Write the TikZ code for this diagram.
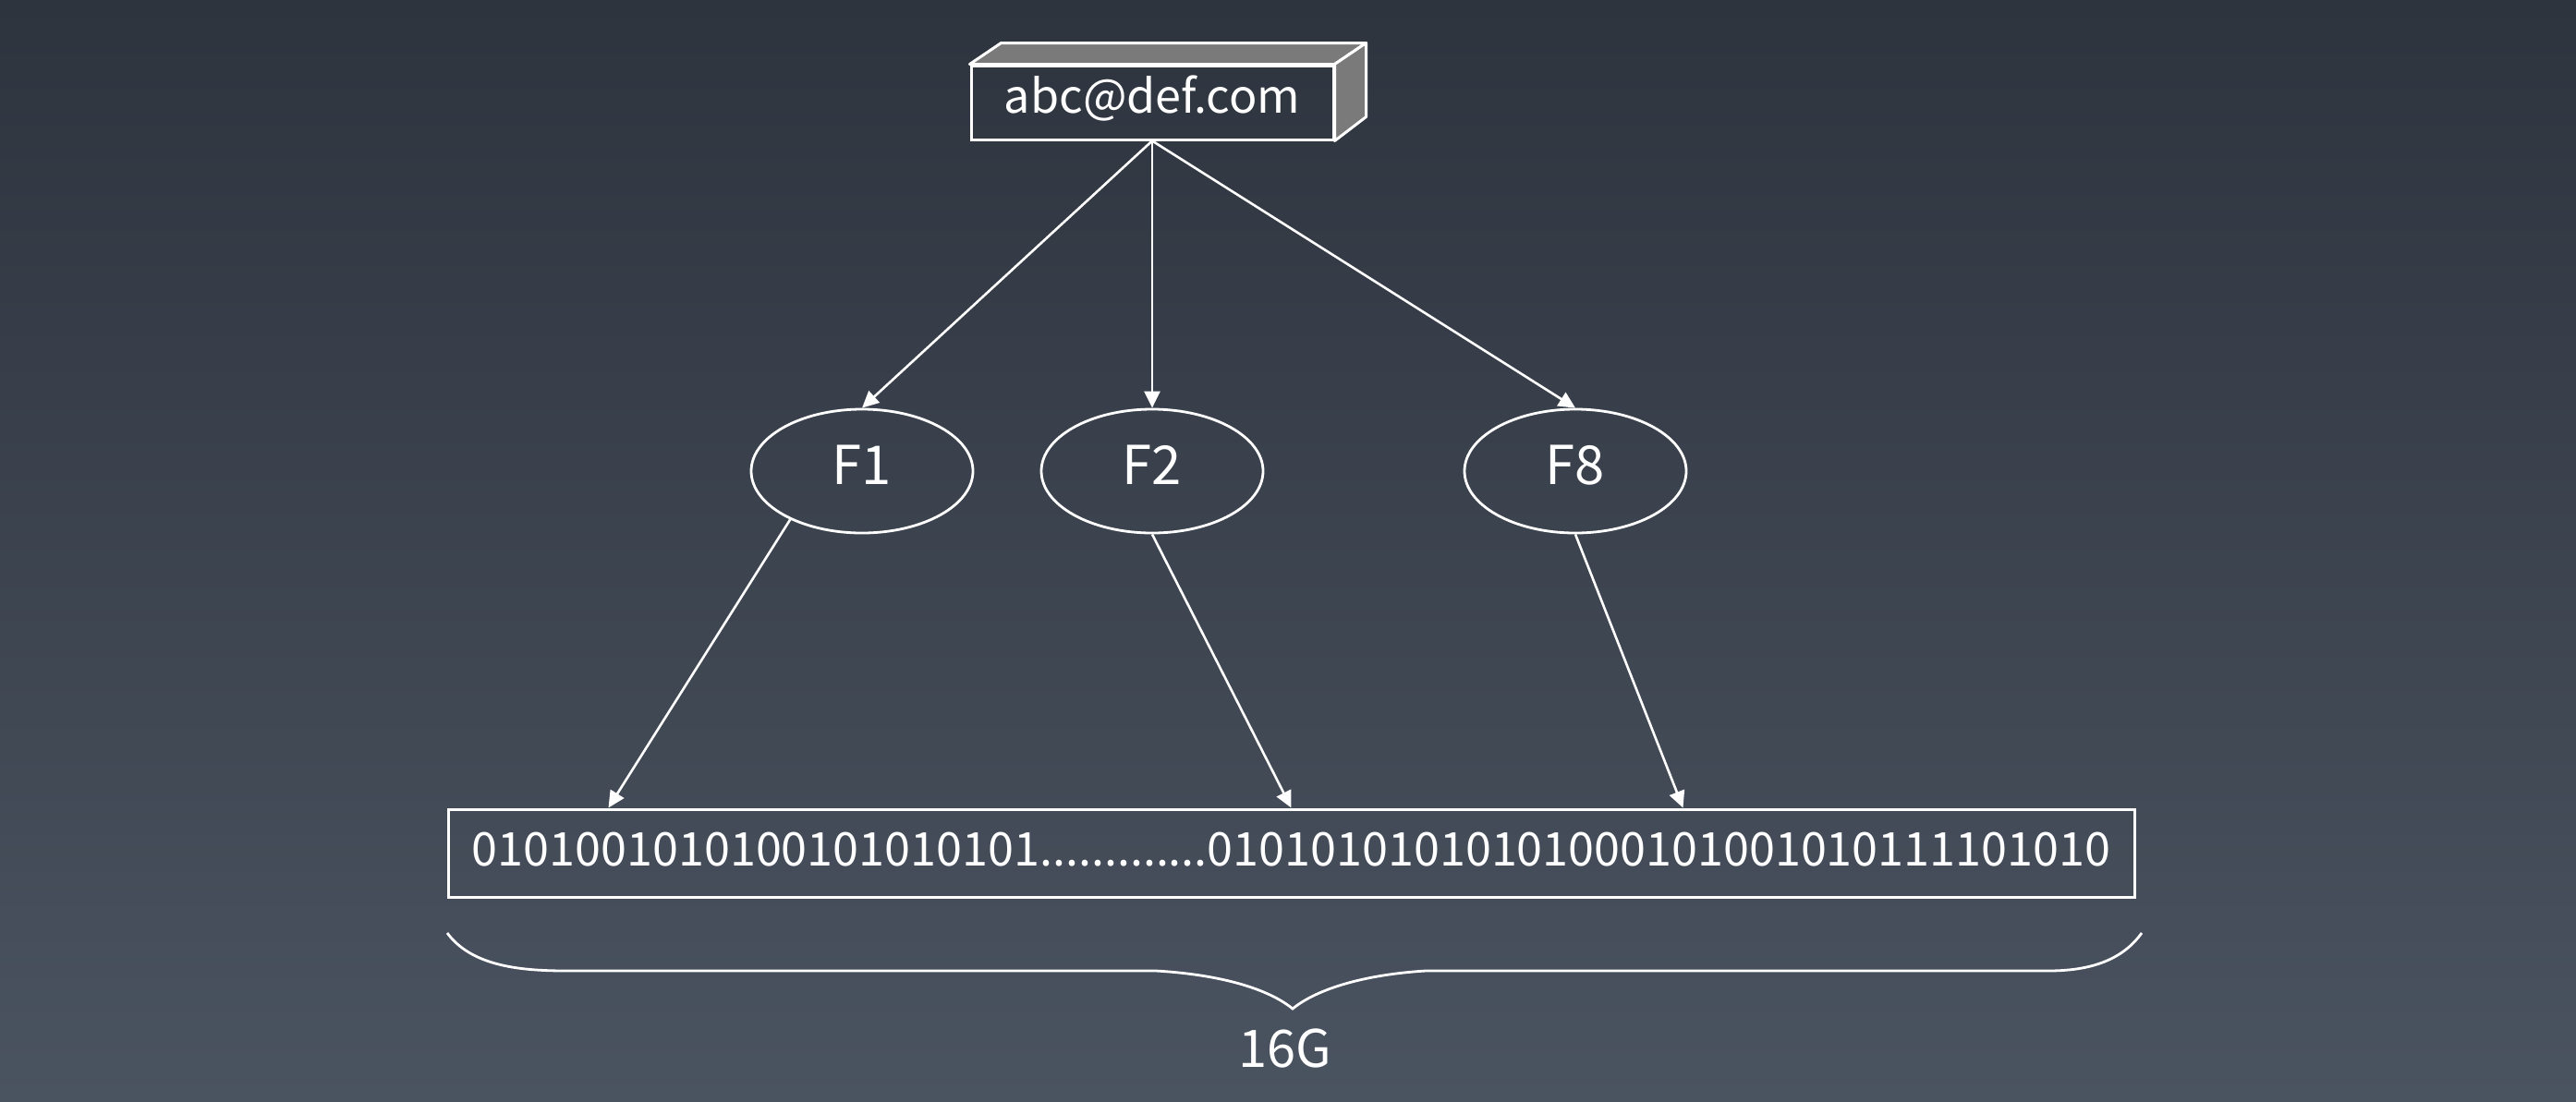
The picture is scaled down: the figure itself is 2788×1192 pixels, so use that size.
\documentclass[tikz,border=0pt]{standalone}
\usepackage{fontspec}
\setmainfont{Noto Sans CJK SC}
\usepackage{tikz}
\usetikzlibrary{arrows.meta, shapes.geometric}

\definecolor{fundoTopo}{HTML}{2E343E}
\definecolor{fundoBase}{HTML}{4A5360}
\definecolor{faceCinza}{HTML}{7A7A7A}

\begin{document}
\begin{tikzpicture}[x=1pt, y=-1pt,
    caixa/.style={draw=white, line width=3pt, text=white, inner sep=0pt, text height=40pt,
        font=\fontsize{50.3}{60}\selectfont},
    funcao/.style={ellipse, draw=white, line width=2.8pt, text=white, inner sep=0pt,
        minimum width=240pt, minimum height=134pt, text height=40pt, text depth=12pt,
        font=\fontsize{58}{70}\selectfont},
    seta/.style={draw=white, line width=2.6pt, -{Triangle[length=18pt, width=17pt]}}]
    % Fundo
    \useasboundingbox (0,0) rectangle (2788,1192);
    \shade[top color=fundoTopo, bottom color=fundoBase] (0,0) rectangle (2788,1192);

    % Caixa do e-mail (em 3D)
    \node[caixa, text depth=18pt, minimum width=392pt, minimum height=80pt] (email) at (1247,111) {abc@def.com};
    \draw[fill=faceCinza, draw=white, line width=3pt, line join=round]
        (email.north west) -- ++(34,-23) -- ([shift={(34,-23)}]email.north east) -- (email.north east) -- cycle;
    \draw[fill=faceCinza, draw=white, line width=3pt, line join=round]
        (email.north east) -- ++(34,-23) -- ++(0,80) -- (email.south east) -- cycle;

    % Funcoes de hash
    \foreach \n/\x in {1/933, 2/1247, 8/1705} {
        \node[funcao] (f\n) at (\x,510) {F\n};
    }

    % Vetor de bits
    \node[caixa, text depth=13pt, minimum width=1825pt, minimum height=95pt] (bits) at (1397.5,923.5)
        {0101001010100101010101.............01010101010101000101001010111101010};
    \coordinate (b1) at ([xshift=-739pt]bits.north);
    \coordinate (b8) at ([xshift=424pt]bits.north);

    % Setas
    \foreach \n in {1,2,8} {
        \draw[seta] (email.south) -- (f\n.north);
    }
    \draw[seta] (f1.214) -- (b1);
    \draw[seta] (f2.south) -- (bits.north);
    \draw[seta] (f8.south) -- (b8);

    % Chave e tamanho
    \draw[white, line width=2.8pt] (484,1010) .. controls (510,1045) and (560,1051) .. (613,1051)
        -- (1251,1051) .. controls (1320,1055) and (1372,1070) .. (1399,1092)
        .. controls (1426,1070) and (1478,1055) .. (1543,1051)
        -- (2217,1051) .. controls (2270,1051) and (2300,1035) .. (2318,1010);
    \node[text=white, font=\fontsize{56}{68}\selectfont] (tamanho) at (1391,1135) {16G};
\end{tikzpicture}
\end{document}
